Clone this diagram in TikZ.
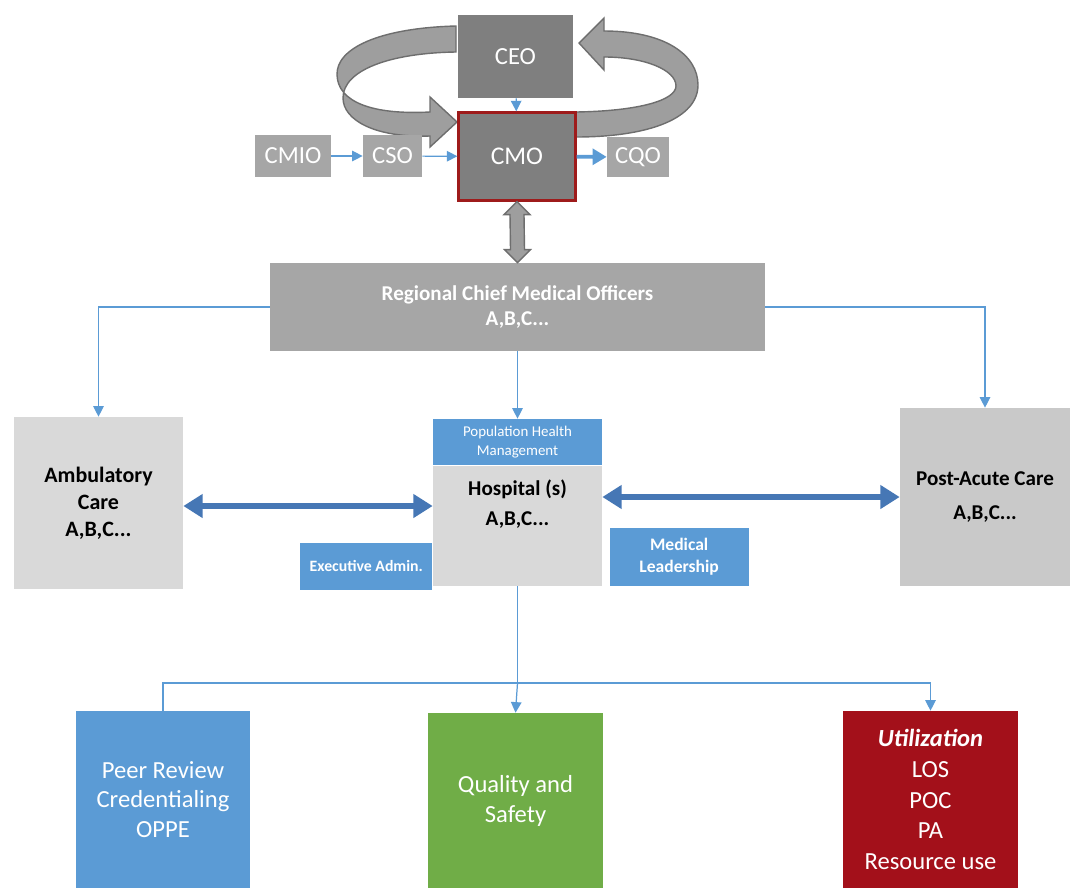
\documentclass[tikz,border=0pt]{standalone}
\usepackage{fontspec}
\setmainfont{Carlito}
\usepackage{tikz}
\usetikzlibrary{arrows.meta,positioning,calc}

\definecolor{darkgrey}{HTML}{7F7F7F}
\definecolor{midgrey}{HTML}{A6A6A6}
\definecolor{lightgrey}{HTML}{D9D9D9}
\definecolor{pacgrey}{HTML}{C9C9C9}
\definecolor{linkblue}{HTML}{5B9BD5}
\definecolor{boxblue}{HTML}{5B9BD5}
\definecolor{arrowblue}{HTML}{4677B5}
\definecolor{qgreen}{HTML}{70AD47}
\definecolor{utilred}{HTML}{A3101A}
\definecolor{cmored}{HTML}{9E1B1B}
\definecolor{ribbon}{HTML}{9E9E9E}
\definecolor{ribbonedge}{HTML}{6E6E6E}

\begin{document}
\begin{tikzpicture}[x=0.02cm,y=-0.02cm,
  box/.style={rectangle,inner sep=2pt,align=center,text=white},
  thinlink/.style={linkblue,line width=0.7pt},
  thinarrow/.style={thinlink,-{Triangle[width=6pt,length=6pt]}},
  bigarrow/.style={arrowblue,line width=3.6pt,{Triangle[width=13pt,length=11pt]}-{Triangle[width=13pt,length=11pt]}}]
\useasboundingbox (0,0) rectangle (1082,896);

% ribbons round CEO / CMO
\filldraw[fill=ribbon,draw=ribbonedge,line width=0.8pt] (456,26) .. controls (380,28) and (336,48) .. (337,75) .. controls (338,102) and (372,115) .. (430,112) -- (430,97) -- (457,122) -- (430,147) -- (430,136) .. controls (375,138) and (343,120) .. (343,98) .. controls (343,70) and (390,53) .. (456,52) -- cycle;
\filldraw[fill=ribbon,draw=ribbonedge,line width=0.8pt] (576,112) .. controls (640,111) and (676,100) .. (676,86) .. controls (676,70) and (645,57) .. (604,57) -- (604,70) -- (579,43) -- (604,18) -- (604,31) .. controls (665,31) and (698,55) .. (698,85) .. controls (698,118) and (650,137) .. (576,137) -- cycle;

% top level
\node[box,fill=darkgrey,minimum width=2.3cm,minimum height=1.66cm,font=\fontsize{14}{17}\selectfont] (ceo) at (515.5,56.5) {CEO};
\node[box,fill=darkgrey,draw=cmored,line width=1.3pt,minimum width=2.34cm,minimum height=1.76cm,font=\fontsize{14.5}{17}\selectfont] (cmo) at (517,156.5) {CMO};
\node[box,fill=midgrey,minimum width=1.52cm,minimum height=0.84cm,font=\fontsize{14}{17}\selectfont] (cmio) at (293,156) {CMIO};
\node[box,fill=midgrey,minimum width=1.18cm,minimum height=0.84cm,font=\fontsize{14}{17}\selectfont] (cso) at (392.5,156) {CSO};
\node[box,fill=midgrey,minimum width=1.24cm,minimum height=0.8cm,font=\fontsize{14}{17}\selectfont] (cqo) at (638,157) {CQO};

\draw[thinarrow] (ceo) -- (cmo);
\draw[thinarrow] (cmio) -- (cso);
\draw[thinarrow] (cso) -- (cmo);
\draw[linkblue,line width=2.2pt,-{Triangle[width=9pt,length=8pt]}] (cmo) -- (cqo);

% regional level
\node[box,fill=midgrey,minimum width=9.9cm,minimum height=1.76cm,font=\bfseries\fontsize{12}{14.7}\selectfont] (rcmo) at (517.5,307) {Regional Chief Medical Officers\\A,B,C...};
% hollow up-down arrow CMO <-> regional
\filldraw[fill=ribbon,draw=ribbonedge,line width=0.8pt] (cmo.south) -- ++(13,13) -- ++(-6,0) -- ($(rcmo.north)+(7,-13)$) -- ++(6,0) -- (rcmo.north) -- ++(-13,-13) -- ++(6,0) -- ($(cmo.south)+(-7,13)$) -- ++(-6,0) -- cycle;

% care settings
\node[box,fill=lightgrey,text=black,minimum width=3.38cm,minimum height=3.44cm,font=\bfseries\fontsize{12.5}{15.3}\selectfont] (amb) at (98.5,503) {Ambulatory\\Care\\A,B,C...};
\node[box,fill=boxblue,minimum width=3.38cm,minimum height=0.92cm,font=\fontsize{8.5}{10.5}\selectfont] (pop) at (517.5,442) {Population Health\\Management};
\node[box,fill=lightgrey,minimum width=3.38cm,minimum height=2.4cm,below=0cm of pop] (hosp) {};
\node[align=center,font=\bfseries\fontsize{12}{17}\selectfont,below=0.16cm of hosp.north] (hosplbl) {Hospital (s)\\A,B,C...};
\node[box,fill=boxblue,minimum width=2.64cm,minimum height=0.94cm,font=\bfseries\fontsize{9}{11}\selectfont,anchor=south east] (exec) at ($(hosp.south west)+(0,4)$) {Executive Admin.};
\node[box,fill=boxblue,minimum width=2.78cm,minimum height=1.16cm,font=\bfseries\fontsize{10}{13}\selectfont,anchor=south west] (medl) at ($(hosp.south east)+(7,0)$) {Medical\\Leadership};
\node[box,fill=pacgrey,text=black,minimum width=3.4cm,minimum height=3.56cm,font=\bfseries\fontsize{12}{19}\selectfont] (pac) at (985,497) {Post-Acute Care\\A,B,C...};

\draw[thinarrow] (rcmo.west) -| (amb.north);
\draw[thinarrow] (rcmo) -- (pop);
\draw[thinarrow] (rcmo.east) -| (pac.north);
\draw[bigarrow] ($(amb.east)+(0,3)$) -- ($(amb.east -| hosp.west)+(0,3)$);
\draw[bigarrow] (hosp.east |- pac.west) -- (pac.west);

% bottom level
\node[box,fill=boxblue,minimum width=3.48cm,minimum height=3.54cm,font=\fontsize{14}{17}\selectfont] (peer) at (163,799.5) {Peer Review\\Credentialing\\OPPE};
\node[box,fill=qgreen,minimum width=3.5cm,minimum height=3.5cm,font=\fontsize{14}{17}\selectfont] (qual) at (515.5,800.5) {Quality and\\Safety};
\node[box,fill=utilred,minimum width=3.5cm,minimum height=3.54cm,font=\fontsize{14}{17.6}\selectfont] (util) at (930.5,799.5) {\textbf{\textit{Utilization}}\\LOS\\POC\\PA\\Resource use};

\coordinate (split) at (517.5,683);
\draw[thinlink] (hosp.south) -- (split);
\draw[thinarrow] (split) -- (qual.north);
\draw[thinlink] (split) -| (peer.north);
\draw[thinarrow] (split) -| (util.north);
\end{tikzpicture}
\end{document}
